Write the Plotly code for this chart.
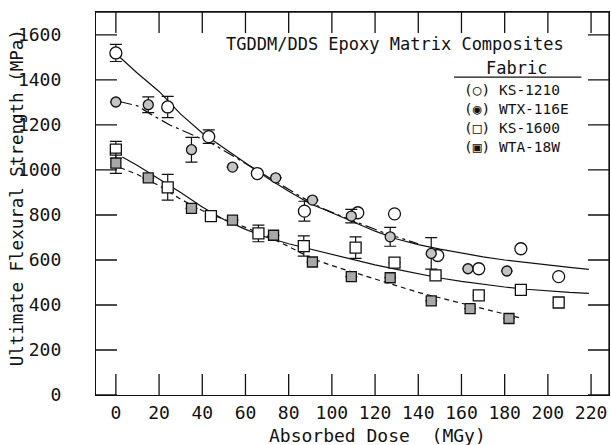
import plotly.graph_objects as go

# ---------------- data ----------------
ks1210_x = [0, 24, 43, 65.5, 87.3, 112, 129, 149, 168, 187.5, 205]
ks1210_y = [1520, 1280, 1148, 984, 817, 810, 805, 620, 561, 650, 526]
ks1210_err = [38, 47, 30, 0, 44, 0, 0, 0, 0, 0, 0]

wtx_x = [0, 15, 35, 54, 74, 91, 109, 127, 146, 163, 181]
wtx_y = [1302, 1290, 1090, 1013, 965, 866, 795, 703, 629, 561, 551]
wtx_err = [0, 35, 55, 0, 0, 0, 30, 42, 70, 0, 0]

ks1600_x = [0, 24, 44, 66, 87, 111, 129, 148, 168, 187.5, 205]
ks1600_y = [1090, 923, 795, 718, 662, 655, 588, 532, 443, 467, 411]
ks1600_err = [37, 57, 0, 37, 45, 48, 0, 0, 0, 0, 0]

wta_x = [0, 15, 35, 54, 73, 91, 109, 127, 146, 164, 182]
wta_y = [1030, 965, 829, 777, 710, 591, 526, 521, 418, 384, 340]
wta_err = [45, 0, 0, 0, 0, 0, 0, 0, 0, 0, 0]

# fitted curves
fit_ks1210_x = [2, 10, 20, 30, 40, 50, 60, 70, 80, 90, 100, 110, 120, 130, 140, 150, 160, 170, 180, 190, 200, 210, 219]
fit_ks1210_y = [1500, 1430, 1349, 1248, 1164, 1098, 1035, 965, 905, 850, 810, 770, 728, 693, 668, 648, 630, 614, 600, 588, 576, 567, 558]

fit_wtx_x = [2, 10, 16.5, 25, 38.8, 45, 55, 65, 75, 85, 95, 110, 125, 140]
fit_wtx_y = [1303, 1285, 1246, 1200, 1142, 1115, 1058, 1000, 940, 885, 832, 773, 718, 672]

fit_ks1600_x = [3, 10, 20, 30, 40, 50, 60, 70, 80, 90, 100, 110, 120, 130, 140, 150, 160, 170, 180, 190, 200, 210, 219]
fit_ks1600_y = [1058, 1020, 960, 900, 835, 780, 736, 700, 672, 648, 625, 600, 578, 558, 538, 520, 505, 492, 480, 470, 462, 456, 452]

fit_wta_x = [2, 10, 20, 30, 40, 50, 60, 70, 80, 90, 100, 110, 120, 130, 140, 150, 160, 170, 180, 187]
fit_wta_y = [1010, 980, 930, 870, 820, 780, 745, 705, 660, 610, 575, 545, 518, 488, 456, 432, 408, 382, 360, 343]

x_ticks = [0, 20, 40, 60, 80, 100, 120, 140, 160, 180, 200, 220]
y_ticks = [0, 200, 400, 600, 800, 1000, 1200, 1400, 1600]
x_range = [-9.2, 228.3]
y_range = [0, 1702]

series_names = ["KS-1210", "WTX-116E", "KS-1600", "WTA-18W"]
legend_glyphs = ["\u25cb", "\u25c9", "\u25a1", "\u25a3"]

# ---------------- styling ----------------
INK = "#111111"
FONT = "DejaVu Sans Mono"
W, H = 611, 445
M = dict(l=96, r=2, t=12, b=50)

fig = go.Figure()

# frame (top and right edges) drawn along the axis ranges
fig.add_trace(go.Scatter(x=[x_range[0], x_range[1], x_range[1]],
                         y=[y_range[1], y_range[1], y_range[0]],
                         mode="lines", line=dict(color=INK, width=1.3),
                         cliponaxis=False, showlegend=False, hoverinfo="skip"))

# inward tick marks on all four sides (markers clipped at the frame -> only inner half shows)
tick_marker_ns = dict(symbol="line-ns", size=30, line=dict(color=INK, width=1.3))
tick_marker_ew = dict(symbol="line-ew", size=30, line=dict(color=INK, width=1.3))
fig.add_trace(go.Scatter(x=x_ticks, y=[y_range[0]] * len(x_ticks), mode="markers",
                         marker=tick_marker_ns, cliponaxis=True, showlegend=False, hoverinfo="skip"))
fig.add_trace(go.Scatter(x=x_ticks, y=[y_range[1]] * len(x_ticks), mode="markers",
                         marker=tick_marker_ns, cliponaxis=True, showlegend=False, hoverinfo="skip"))
fig.add_trace(go.Scatter(x=[x_range[0]] * len(y_ticks), y=y_ticks, mode="markers",
                         marker=tick_marker_ew, cliponaxis=True, showlegend=False, hoverinfo="skip"))
fig.add_trace(go.Scatter(x=[x_range[1]] * len(y_ticks), y=y_ticks, mode="markers",
                         marker=tick_marker_ew, cliponaxis=True, showlegend=False, hoverinfo="skip"))

# curves
fig.add_trace(go.Scatter(x=fit_ks1210_x, y=fit_ks1210_y, mode="lines",
                         line=dict(color=INK, width=1.2), showlegend=False, hoverinfo="skip"))
fig.add_trace(go.Scatter(x=fit_wtx_x, y=fit_wtx_y, mode="lines",
                         line=dict(color=INK, width=1.2, dash="12px,4px,3px,4px"), showlegend=False, hoverinfo="skip"))
fig.add_trace(go.Scatter(x=fit_ks1600_x, y=fit_ks1600_y, mode="lines",
                         line=dict(color=INK, width=1.2), showlegend=False, hoverinfo="skip"))
fig.add_trace(go.Scatter(x=fit_wta_x, y=fit_wta_y, mode="lines",
                         line=dict(color=INK, width=1.2, dash="5px,4px"), showlegend=False, hoverinfo="skip"))

def pts(x, y, err, name, symbol, fill, size):
    return go.Scatter(
        x=x, y=y, mode="markers", name=name, showlegend=False,
        marker=dict(symbol=symbol, size=size, color=fill, line=dict(color=INK, width=1.3)),
        error_y=dict(type="data", array=err, visible=True, color=INK, thickness=1.2, width=6),
    )

fig.add_trace(pts(ks1210_x, ks1210_y, ks1210_err, series_names[0], "circle", "white", 12))
fig.add_trace(pts(wtx_x, wtx_y, wtx_err, series_names[1], "circle", "#c4c4c4", 10))
fig.add_trace(pts(ks1600_x, ks1600_y, ks1600_err, series_names[2], "square", "white", 11))
fig.add_trace(pts(wta_x, wta_y, wta_err, series_names[3], "square", "#a8a8a8", 10))

axis_common = dict(
    showline=True, mirror=True, linecolor=INK, linewidth=1.3,
    ticks="", showgrid=False, zeroline=False,
    tickfont=dict(family=FONT, size=18, color=INK),
)

fig.update_layout(template="none")
fig.update_xaxes(range=x_range, tickmode="array", tickvals=x_ticks,
                 ticklabelstandoff=1, **axis_common)
fig.update_yaxes(range=y_range, tickmode="array", tickvals=y_ticks,
                 ticklabelstandoff=30, **axis_common)

legend_text = "<br>".join(f"({g}) {n}" for g, n in zip(legend_glyphs, series_names))

annotations = [
    dict(text="TGDDM/DDS Epoxy Matrix Composites", xref="paper", yref="paper",
         x=0.583, y=0.9164, showarrow=False, xanchor="center", yanchor="middle",
         font=dict(family=FONT, size=17, color=INK)),
    dict(text="Fabric", xref="paper", yref="paper", x=0.819, y=0.854,
         showarrow=False, xanchor="center", yanchor="middle",
         font=dict(family=FONT, size=17, color=INK)),
    dict(text=legend_text, xref="paper", yref="paper", x=0.714, y=0.7232,
         showarrow=False, xanchor="left", yanchor="middle", align="left",
         font=dict(family=FONT, size=14.5, color=INK)),
    dict(text="Absorbed Dose  (MGy)", xref="paper", yref="paper", x=0.549, y=-0.107,
         showarrow=False, xanchor="center", yanchor="middle",
         font=dict(family=FONT, size=18, color=INK)),
    dict(text="Ultimate Flexural Strength (MPa)", xref="paper", yref="paper", x=-0.1537, y=0.514,
         showarrow=False, xanchor="center", yanchor="middle", textangle=-90,
         font=dict(family=FONT, size=17.5, color=INK)),
]

fig.update_layout(
    width=W, height=H,
    margin=M,
    paper_bgcolor="white", plot_bgcolor="white",
    font=dict(family=FONT, color=INK),
    showlegend=False,
    annotations=annotations,
    shapes=[dict(type="line", xref="paper", yref="paper", x0=0.698, x1=0.946, y0=0.830, y1=0.830,
                 line=dict(color=INK, width=1.2))],
)

fig.write_html("out.html", config={"displayModeBar": False},
               post_script="document.body.style.margin='0px';")
